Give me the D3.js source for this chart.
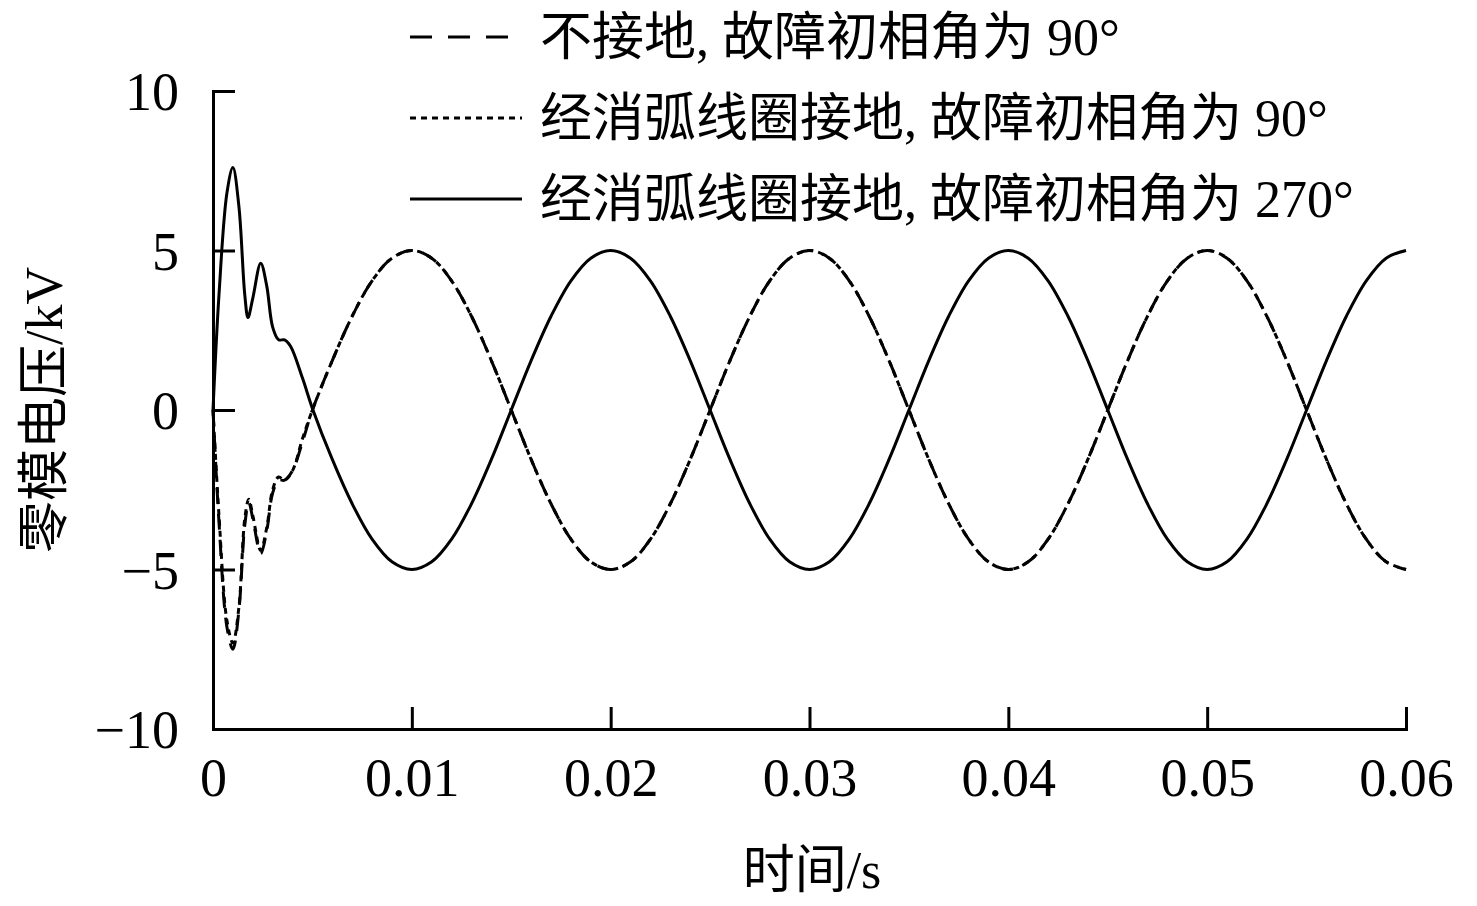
<!DOCTYPE html><html><head><meta charset="utf-8"><script src="https://cdn.jsdelivr.net/npm/d3@7"></script>
<style>body{margin:0;background:#fff}text{font-family:"Liberation Serif","Noto Sans CJK SC",serif;fill:#000}</style></head><body>
<svg id="c" width="1477" height="906"></svg>
<script>
const xTicks=[0,0.01,0.02,0.03,0.04,0.05,0.06];
const xTickLabels=["0","0.01","0.02","0.03","0.04","0.05","0.06"];
const yTicks=[-10,-5,0,5,10];
const yTickLabels=["\u221210","\u22125","0","5","10"];
const legendLabels=["不接地, 故障初相角为 90°","经消弧线圈接地, 故障初相角为 90°","经消弧线圈接地, 故障初相角为 270°"];
// steady-state samples (every 1 ms), one period of 20 ms
const cycleT=[0,0.001,0.002,0.003,0.004,0.005,0.006,0.007,0.008,0.009,0.010,0.011,0.012,0.013,0.014,0.015,0.016,0.017,0.018,0.019];
const cycleV=[5,4.76,4.05,2.94,1.55,0,-1.55,-2.94,-4.05,-4.76,-5,-4.76,-4.05,-2.94,-1.55,0,1.55,2.94,4.05,4.76];
const solidTransient=[[0,0],[0.0003,3.6],[0.0007,6.8],[0.001,7.6],[0.0013,6.4],[0.0016,3.6],[0.00176,2.9],[0.002,3.5],[0.0024,4.6],[0.0027,3.9],[0.003,2.6],[0.0033,2.2],[0.0036,2.2],[0.0039,2.0],[0.0045,1.0],[0.005,0.05]];
const dashTransient=[[0,0],[0.0003,-3.5],[0.0007,-6.8],[0.001,-7.5],[0.0013,-6.3],[0.0016,-3.6],[0.0018,-2.9],[0.002,-3.4],[0.0024,-4.5],[0.0027,-3.8],[0.003,-2.6],[0.0033,-2.2],[0.0036,-2.2],[0.004,-1.9],[0.0045,-1.0],[0.005,0]];
const dotTransient=[[0,0],[0.0003,-3.3],[0.0007,-6.6],[0.001,-7.3],[0.0013,-6.2],[0.0016,-3.4],[0.0018,-2.8],[0.002,-3.3],[0.0024,-4.4],[0.0027,-3.7],[0.003,-2.5],[0.0033,-2.1],[0.0036,-2.2],[0.004,-1.9],[0.0045,-0.9],[0.005,0]];
const cycles=[0,0.02,0.04];

function steady(sign){const p=[];cycles.forEach(c=>cycleT.forEach((t,i)=>{const tt=c+t;if(tt>0.0055)p.push([tt,sign*cycleV[i]]);}));p.push([0.06,sign*5]);return p;}
const solid=solidTransient.concat(steady(1));
const dash=dashTransient.concat(steady(-1));
const dot=dotTransient.concat(steady(-1));

const svg=d3.select("#c");
const x=d3.scaleLinear().domain([0,0.06]).range([213,1406]);
const y=d3.scaleLinear().domain([-10,10]).range([729,91]);
const line=d3.line().x(d=>x(d[0])).y(d=>y(d[1])).curve(d3.curveCatmullRom);
svg.append("path").attr("d",line(dot)).attr("fill","none").attr("stroke","#000").attr("stroke-width",3).attr("stroke-dasharray","6,5");
svg.append("path").attr("d",line(dash)).attr("fill","none").attr("stroke","#000").attr("stroke-width",3).attr("stroke-dasharray","16,10");
svg.append("path").attr("d",line(solid)).attr("fill","none").attr("stroke","#000").attr("stroke-width",3);

const xa=svg.append("g").attr("transform","translate(0,729)").call(d3.axisBottom(x).tickValues(xTicks).tickSize(-22).tickFormat((d,i)=>xTickLabels[i]).tickPadding(28));
const ya=svg.append("g").attr("transform","translate(213,0)").call(d3.axisLeft(y).tickValues(yTicks).tickSize(-22).tickFormat((d,i)=>yTickLabels[i]).tickPadding(34));
[xa,ya].forEach(a=>{a.select(".domain").attr("stroke-width",3);a.selectAll(".tick line").attr("stroke-width",3);a.selectAll("text").style("font-size","54px").attr("font-family",null);});
ya.selectAll("text").attr("dy","0.35em");
xa.selectAll("text").attr("dy","0.72em");
svg.append("text").attr("x",812).attr("y",888).attr("text-anchor","middle").style("font-size","52px").text("时间/s");
svg.append("text").attr("transform","translate(62,410) rotate(-90)").attr("text-anchor","middle").style("font-size","52px").text("零模电压/kV");

const dashes=["22,16","6,5",null];
legendLabels.forEach((l,i)=>{const yy=37+i*81;
 const ln=svg.append("line").attr("x1",410).attr("x2",522).attr("y1",yy).attr("y2",yy).attr("stroke","#000").attr("stroke-width",3);
 if(dashes[i])ln.attr("stroke-dasharray",dashes[i]);
 svg.append("text").attr("x",540).attr("y",yy+18).style("font-size","52px").text(l);});
</script></body></html>
